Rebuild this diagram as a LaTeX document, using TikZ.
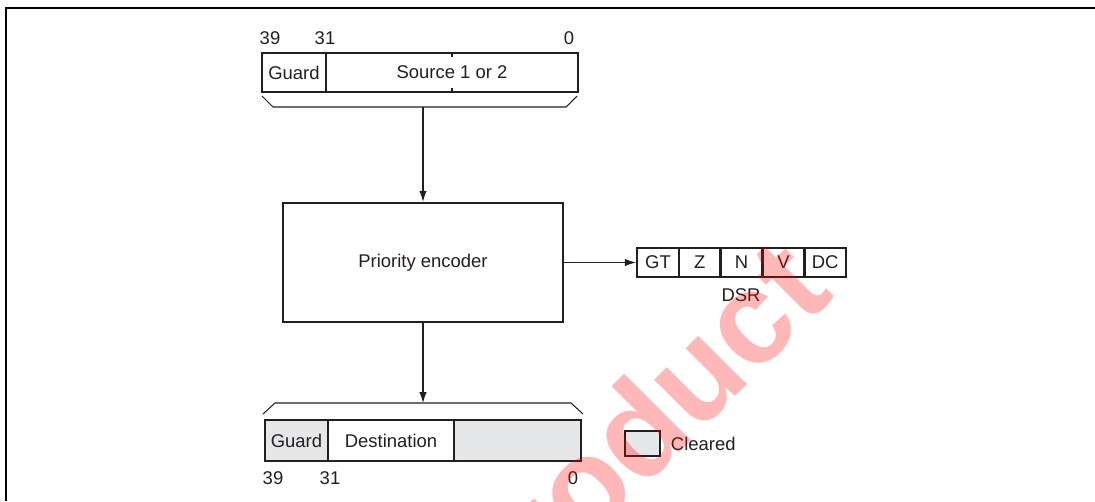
\documentclass[tikz,border=0pt]{standalone}
\usepackage{fontspec}
\setmainfont{Liberation Sans}
\usetikzlibrary{arrows.meta,positioning}
\definecolor{ink}{HTML}{231F20}
\definecolor{cleargray}{HTML}{E6E7E8}
\begin{document}
\begin{tikzpicture}[x=0.02cm,y=-0.02cm,
  every node/.style={font=\fontsize{10.5}{12}\selectfont,text=ink},
  reg/.style={draw=ink,line width=1.4pt,minimum height=0.79cm,inner sep=0pt},
  bit/.style={draw=ink,line width=1.4pt,minimum width=0.836cm,minimum height=0.58cm,inner sep=0pt},
  wire/.style={draw=ink,line width=0.6pt},
  arr/.style={wire,-{Latex[length=2.2mm,width=1.5mm]}}]
 \useasboundingbox (0,0) rectangle (1095,501);
 \draw[line width=1.7pt] (6,501) -- (6,8) -- (1095,8);
 % source register
 \node[reg,minimum width=1.28cm] (guardS) at (294,72.5) {Guard};
 \node[reg,minimum width=5.04cm] (src) at (452,72.5) {Source 1 or 2};
 \draw[draw=ink,line width=1pt] (src.north) -- ++(0,5) (src.south) -- ++(0,-5);
 \node (s39) at (270,38) {39};
 \node (s31) at (325,38) {31};
 \node (s0) at (569,38) {0};
 \draw[wire] (262,96) -- (273,107) -- (566,107) -- (577,96);
 \coordinate (srcTap) at (423,107);
 % encoder
 \node[draw=ink,line width=1.4pt,minimum width=5.6cm,minimum height=2.38cm] (enc) at (423,262.5) {Priority encoder};
 \draw[arr] (srcTap) -- (enc.north);
 % DSR bits
 \foreach \f [count=\i from 0] in {GT,Z,N,V,DC}
   \node[bit] (dsr\i) at (658+41.8*\i,262.5) {\f};
 \node (dsrlbl) at (741,295) {DSR};
 \draw[arr] (enc.east) -- (dsr0.west);
 % destination register
 \draw[wire] (263,414) -- (275,403) -- (571,403) -- (583,414);
 \coordinate (dstTap) at (423,403);
 \draw[arr] (enc.south) -- (dstTap);
 \node[reg,fill=cleargray,minimum width=1.26cm,minimum height=0.82cm] (guardD) at (296.5,440.5) {Guard};
 \node[reg,minimum width=2.52cm,minimum height=0.82cm] (dst) at (391,440.5) {Destination};
 \node[reg,fill=cleargray,minimum width=2.54cm,minimum height=0.82cm] (low) at (517.5,440.5) {};
 \node (d39) at (273,478) {39};
 \node (d31) at (330,478) {31};
 \node (d0) at (573,478) {0};
 % key
 \node[draw=ink,line width=1.4pt,fill=cleargray,minimum width=0.7cm,minimum height=0.5cm,inner sep=0pt] (key) at (642.5,443.5) {};
 \node[right=2pt of key] (keylbl) {Cleared};
 % watermark
 \begin{scope}
  \clip (0,0) rectangle (1095,501);
  \node[rotate=45,anchor=base east,text=red,opacity=0.28,font=\fontsize{74}{74}\selectfont\bfseries] (wm) at (840,292) {product};
 \end{scope}
\end{tikzpicture}
\end{document}
